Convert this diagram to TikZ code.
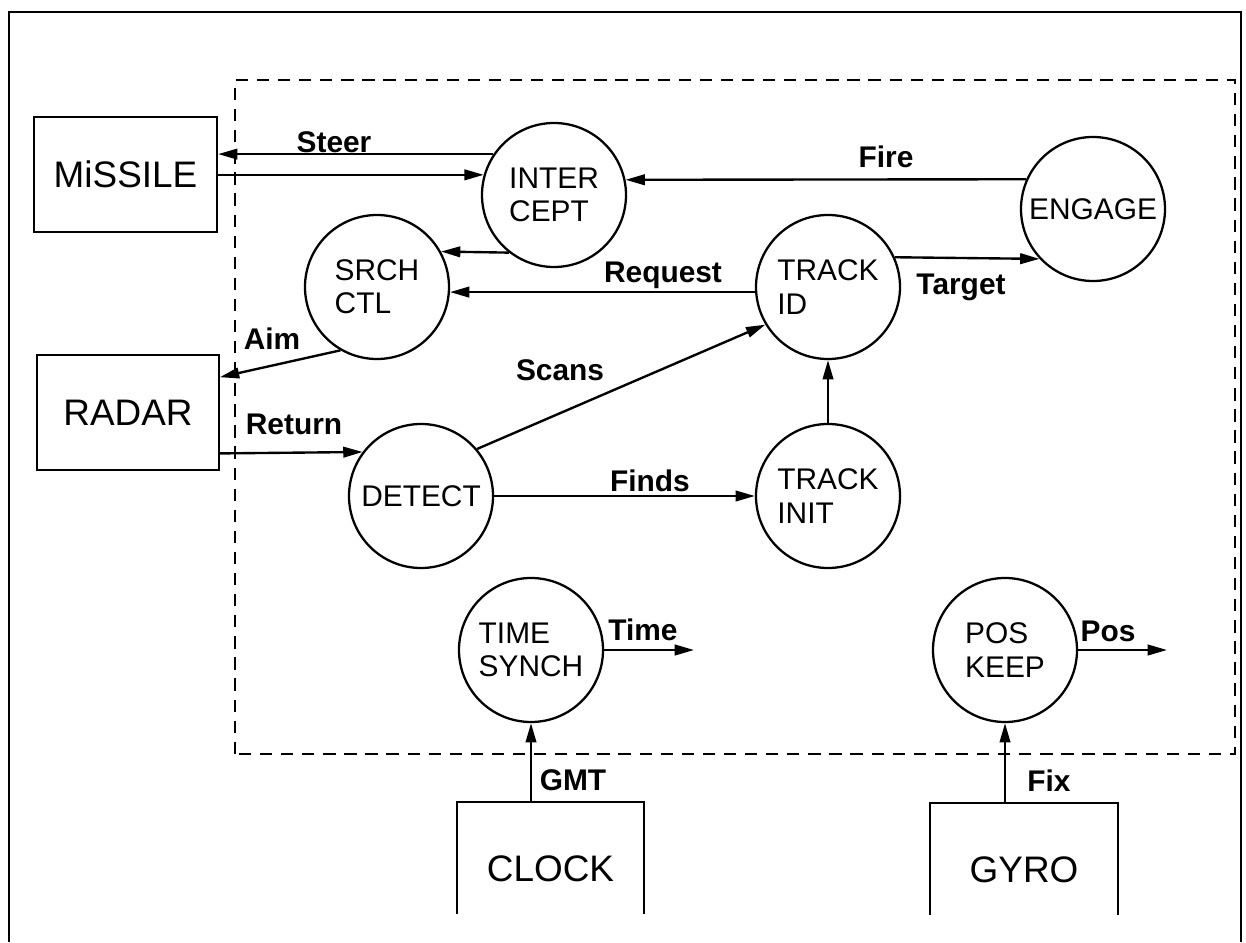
\documentclass[tikz,border=0pt]{standalone}
\usepackage{fontspec}
\setmainfont{Liberation Sans}
\usetikzlibrary{arrows.meta}

\begin{document}
\begin{tikzpicture}[
    proc/.style={circle, draw, line width=1.3pt, minimum size=2.88cm, inner sep=0pt,
      align=left, font=\fontsize{17}{19}\selectfont},
    term/.style={draw, line width=1.3pt, font=\fontsize{21}{25}\selectfont},
    flow/.style={-{Triangle[length=11pt,width=6pt]}, line width=1.35pt},
    lbl/.style={font=\bfseries\fontsize{17}{20}\selectfont}
  ]
  \useasboundingbox (0,0) rectangle (24.92,18.84);
  % outer frame, open at the bottom
  \draw[line width=1.6pt] (0.18,0) -- (0.18,18.6) -- (24.82,18.6) -- (24.82,0);
  % system boundary
  \draw[line width=1.5pt, dash pattern=on 7pt off 5pt] (4.7,3.76) rectangle (24.7,17.24);

  % external devices
  \node[term, minimum width=3.66cm, minimum height=2.3cm] (missile) at (2.51,15.35) {MiSSILE};
  \node[term, minimum width=3.63cm, minimum height=2.3cm] (radar) at (2.56,10.59) {RADAR};
  \node[term, draw=none, minimum width=3.7cm, minimum height=2.64cm] (clock) at (11.01,1.46) {CLOCK};
  \node[term, draw=none, minimum width=3.72cm, minimum height=2.64cm] (gyro) at (20.48,1.44) {GYRO};
  \draw[line width=1.3pt] ([yshift=-2.24cm]clock.north west) -- (clock.north west)
    -- (clock.north east) -- ++(0,-2.24);
  \draw[line width=1.3pt] ([yshift=-2.24cm]gyro.north west) -- (gyro.north west)
    -- (gyro.north east) -- ++(0,-2.24);

  % processes
  \node[proc] (intercept) at (11.08,14.94) {INTER\\CEPT};
  \node[proc] (srch) at (7.54,13.10) {SRCH\\CTL};
  \node[proc] (engage) at (21.86,14.66) {ENGAGE};
  \node[proc] (trackid) at (16.56,13.10) {TRACK\\ID};
  \node[proc] (detect) at (8.42,8.92) {DETECT};
  \node[proc] (trackinit) at (16.56,8.92) {TRACK\\INIT};
  \node[proc] (timesynch) at (10.62,5.84) {TIME\\SYNCH};
  \node[proc] (poskeep) at (20.10,5.84) {POS\\KEEP};
  \coordinate (timeout) at (13.88,5.84);
  \coordinate (posout) at (23.34,5.84);

  % data flows
  \draw[flow] (intercept.146) -- (intercept.146 -| missile.east);
  \draw[flow] (intercept.164 -| missile.east) -- (intercept.164);
  \draw[flow] (engage.156) -- (intercept.12);
  \draw[flow] (intercept.232) -- (srch.29);
  \draw[flow] (trackid.184) -- (srch.356);
  \draw[flow] (trackid.24) -- (engage.223);
  \draw[flow] (srch.240) -- (radar.21);
  \draw[flow] (radar.-24) -- (detect.143);
  \draw[flow] (detect.40) -- (trackid.211);
  \draw[flow] (detect) -- (trackinit);
  \draw[flow] (trackinit) -- (trackid);
  \draw[flow] (timesynch.south |- clock.north) -- (timesynch.south);
  \draw[flow] (poskeep.south |- gyro.north) -- (poskeep.south);
  \draw[flow] (timesynch) -- (timeout);
  \draw[flow] (poskeep) -- (posout);

  % flow names
  \node[lbl] (lsteer) at (6.68,16.00) {Steer};
  \node[lbl] (lfire) at (17.72,15.70) {Fire};
  \node[lbl] (lrequest) at (13.26,13.34) {Request};
  \node[lbl] (ltarget) at (19.22,13.09) {Target};
  \node[lbl] (laim) at (5.44,12.06) {Aim};
  \node[lbl] (lscans) at (11.20,11.44) {Scans};
  \node[lbl] (lreturn) at (5.88,10.36) {Return};
  \node[lbl] (lfinds) at (13.00,9.22) {Finds};
  \node[lbl] (ltime) at (12.86,6.24) {Time};
  \node[lbl] (lpos) at (22.16,6.22) {Pos};
  \node[lbl] (lgmt) at (11.46,3.24) {GMT};
  \node[lbl] (lfix) at (20.98,3.22) {Fix};
\end{tikzpicture}
\end{document}
